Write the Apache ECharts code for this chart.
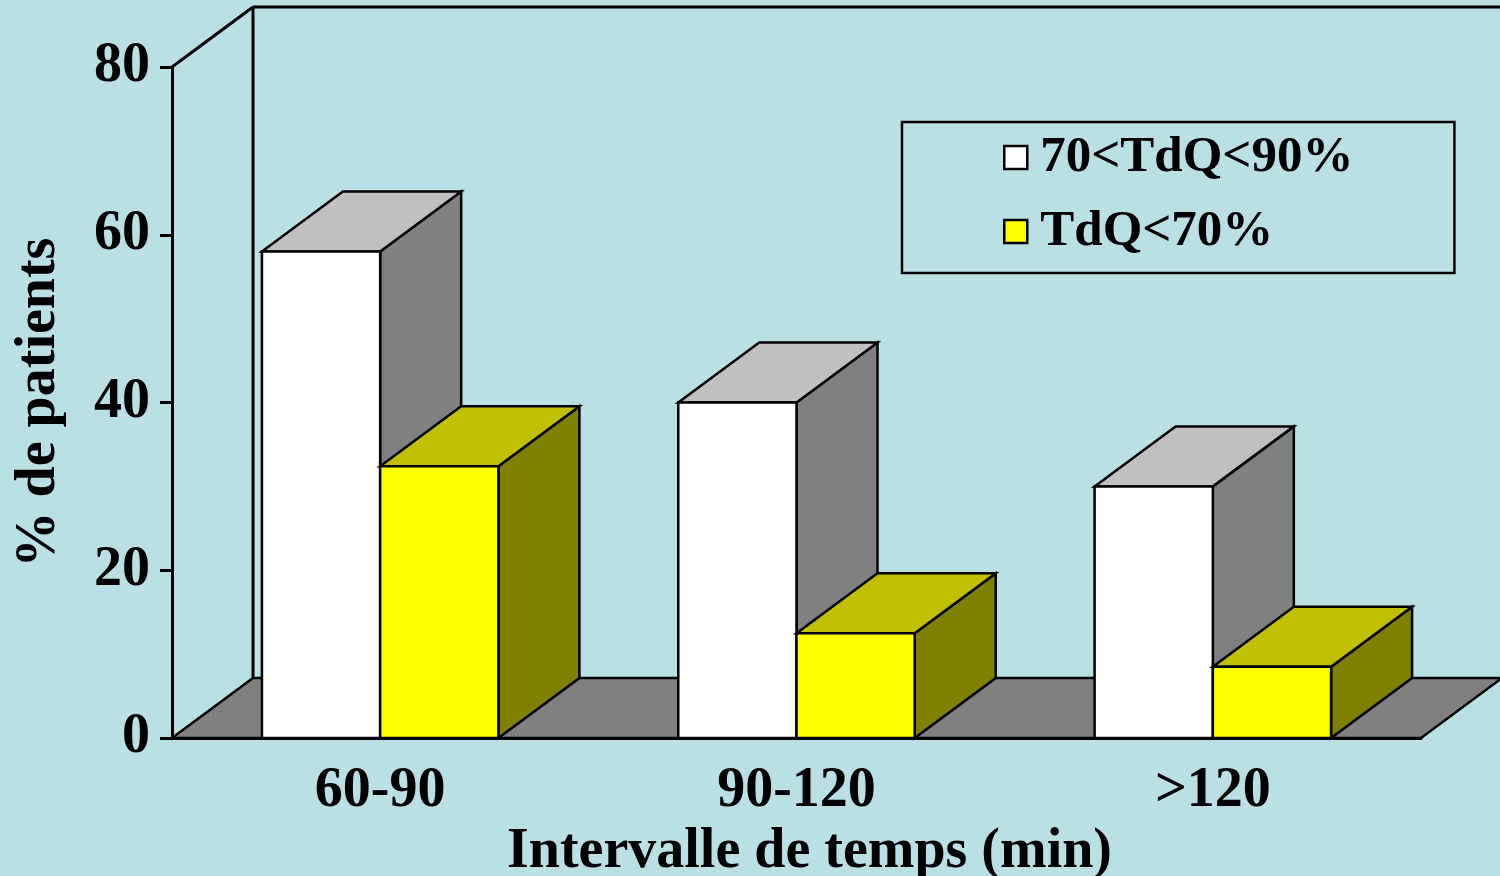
<!DOCTYPE html>
<html>
<head>
<meta charset="utf-8">
<script src="https://cdn.jsdelivr.net/npm/echarts@6/dist/echarts.min.js"></script>
<style>
  html, body { margin: 0; padding: 0; background: #BAE0E3; }
  #chart { width: 1500px; height: 876px; }
</style>
</head>
<body>
<div id="chart"></div>
<script>
// Categories and values
const categories = ['60-90', '90-120', '>120'];
const seriesNames = ['70<TdQ<90%', 'TdQ<70%'];
const valuesMild = [58, 40, 30];
const valuesSevere = [32.4, 12.5, 8.5];
const yMin = 0, yMax = 80, yInterval = 20;

// Style
const FONT = "'Liberation Serif', 'Times New Roman', serif";
const BG = '#BAE0E3';
const DEPTH_X = 81;       // 3D depth offset (px)
const DEPTH_Y = 60;
const BAR_FRAC = 0.284;   // bar width as fraction of the category band
const faces = [
  { front: '#FFFFFF', top: '#C0C0C0', side: '#808080' },
  { front: '#FFFF00', top: '#C0C000', side: '#808000' }
];

const chart = echarts.init(document.getElementById('chart'), null, { renderer: 'canvas' });

function barRenderer(sIdx) {
  return function (params, api) {
    const i = api.value(0);
    const v = api.value(1);
    const top = api.coord([i, v]);
    const base = api.coord([i, 0]);
    const band = api.size([1, 0])[0];
    const w = band * BAR_FRAC;
    const cx = top[0];
    const x0 = sIdx === 0 ? cx - w : cx;
    const x1 = x0 + w;
    const y = top[1], yb = base[1];
    const f = faces[sIdx];
    const stroke = { stroke: '#000', lineWidth: 2.5, lineJoin: 'miter' };
    return {
      type: 'group',
      children: [
        { type: 'polygon', shape: { points: [[x1, y], [x1 + DEPTH_X, y - DEPTH_Y], [x1 + DEPTH_X, yb - DEPTH_Y], [x1, yb]] },
          style: Object.assign({ fill: f.side }, stroke) },
        { type: 'polygon', shape: { points: [[x0, y], [x1, y], [x1 + DEPTH_X, y - DEPTH_Y], [x0 + DEPTH_X, y - DEPTH_Y]] },
          style: Object.assign({ fill: f.top }, stroke) },
        { type: 'rect', shape: { x: x0, y: y, width: w, height: yb - y },
          style: Object.assign({ fill: f.front }, stroke) }
      ]
    };
  };
}

// Floor and walls of the 3D box
function frameRenderer(params, api) {
  const band = api.size([1, 0])[0];
  const n = categories.length;
  const left = api.coord([0, yMin])[0] - band / 2;
  const right = api.coord([n - 1, yMin])[0] + band / 2;
  const yb = api.coord([0, yMin])[1];
  const yt = api.coord([0, yMax])[1];
  const line = { stroke: '#000', lineWidth: 3 };
  return {
    type: 'group',
    children: [
      { type: 'polygon', shape: { points: [[left, yb], [right, yb], [right + DEPTH_X, yb - DEPTH_Y], [left + DEPTH_X, yb - DEPTH_Y]] },
        style: { fill: '#808080', stroke: '#000', lineWidth: 2.5 } },
      { type: 'line', shape: { x1: left, y1: yt, x2: left + DEPTH_X, y2: yt - DEPTH_Y }, style: line },
      { type: 'line', shape: { x1: left + DEPTH_X, y1: yt - DEPTH_Y, x2: left + DEPTH_X, y2: yb - DEPTH_Y }, style: line },
      { type: 'line', shape: { x1: left + DEPTH_X, y1: yt - DEPTH_Y, x2: right + DEPTH_X, y2: yt - DEPTH_Y }, style: line }
    ]
  };
}

const option = {
  backgroundColor: BG,
  animation: false,
  grid: { left: 172, right: 79, top: 67, bottom: 138, containLabel: false, outerBoundsMode: 'none' },
  legend: {
    left: 902, top: 122,
    orient: 'vertical',
    icon: 'rect',
    itemWidth: 23, itemHeight: 23,
    itemGap: 23,
    padding: [10, 101, 16, 101],
    borderColor: '#000', borderWidth: 2.5,
    backgroundColor: 'transparent',
    selectedMode: false,
    itemStyle: { borderColor: '#000', borderWidth: 2.5 },
    textStyle: { fontFamily: FONT, fontWeight: 'bold', fontSize: 51, lineHeight: 50, color: '#000', padding: [0, 0, 0, 8] },
    data: [
      { name: seriesNames[0], itemStyle: { color: faces[0].front } },
      { name: seriesNames[1], itemStyle: { color: faces[1].front } }
    ]
  },
  xAxis: {
    type: 'category',
    data: categories,
    boundaryGap: true,
    name: 'Intervalle de temps (min)',
    nameLocation: 'middle',
    nameGap: 82,
    nameTextStyle: { fontFamily: FONT, fontWeight: 'bold', fontSize: 56, color: '#000', padding: [0, 0, 0, 26] },
    axisLine: { lineStyle: { color: '#000', width: 3 } },
    axisTick: { length: 12, lineStyle: { color: '#000', width: 3 } },
    axisLabel: { margin: 26, fontFamily: FONT, fontWeight: 'bold', fontSize: 56, color: '#000' },
    splitLine: { show: false }
  },
  yAxis: {
    type: 'value',
    min: yMin, max: yMax, interval: yInterval,
    name: '% de patients',
    nameLocation: 'middle',
    nameGap: 104,
    nameRotate: 90,
    nameTextStyle: { fontFamily: FONT, fontWeight: 'bold', fontSize: 56, color: '#000' },
    axisLine: { show: true, lineStyle: { color: '#000', width: 3 } },
    axisTick: { show: true, length: 12, lineStyle: { color: '#000', width: 3 } },
    axisLabel: { margin: 22, fontFamily: FONT, fontWeight: 'bold', fontSize: 56, color: '#000' },
    splitLine: { show: false }
  },
  series: [
    {
      type: 'custom',
      name: 'frame',
      silent: true,
      z: 1,
      renderItem: frameRenderer,
      data: [[0, 0]],
      encode: { x: 0, y: 1 }
    },
    {
      type: 'custom',
      name: seriesNames[0],
      z: 2,
      renderItem: barRenderer(0),
      itemStyle: { color: faces[0].front },
      data: valuesMild.map((v, i) => [i, v]),
      encode: { x: 0, y: 1 }
    },
    {
      type: 'custom',
      name: seriesNames[1],
      z: 3,
      renderItem: barRenderer(1),
      itemStyle: { color: faces[1].front },
      data: valuesSevere.map((v, i) => [i, v]),
      encode: { x: 0, y: 1 }
    }
  ]
};

chart.setOption(option);
</script>
</body>
</html>
